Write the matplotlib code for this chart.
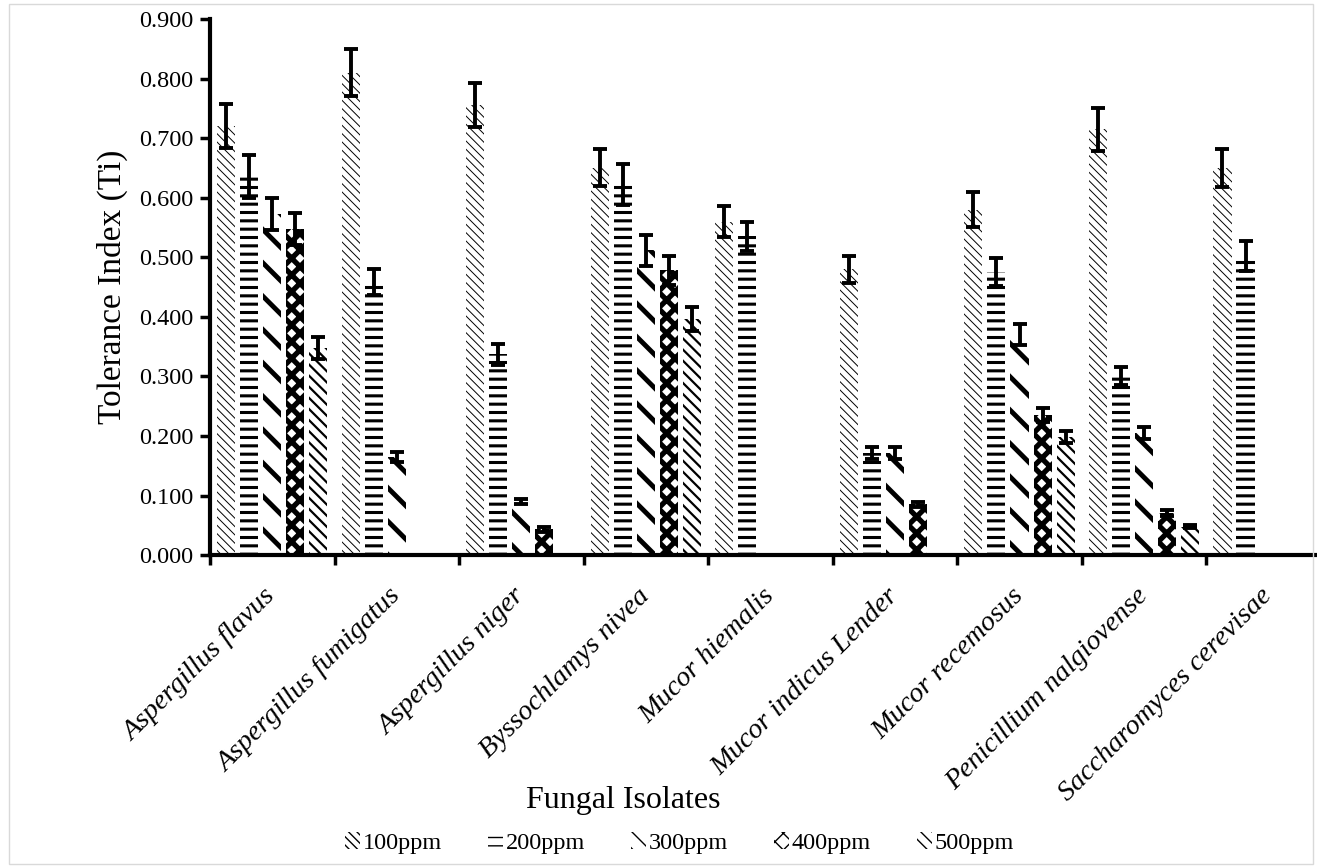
import numpy as np
import matplotlib
matplotlib.use("Agg")
import matplotlib.pyplot as plt
from matplotlib.patches import Rectangle

plt.rcParams['font.family'] = ['Liberation Serif', 'DejaVu Serif']

isolates = ['Aspergillus flavus', 'Aspergillus fumigatus', 'Aspergillus niger',
            'Byssochlamys nivea', 'Mucor hiemalis', 'Mucor indicus Lender',
            'Mucor recemosus', 'Penicillium nalgiovense', 'Saccharomyces cerevisae']
doses = ['100ppm', '200ppm', '300ppm', '400ppm', '500ppm']

ti_100 = [0.720, 0.810, 0.755, 0.650, 0.560, 0.480, 0.580, 0.715, 0.650]
ti_200 = [0.635, 0.458, 0.337, 0.622, 0.535, 0.172, 0.475, 0.300, 0.502]
ti_300 = [0.572, 0.165, 0.090, 0.512, 0.0, 0.172, 0.370, 0.205, 0.0]
ti_400 = [0.548, 0.0, 0.043, 0.478, 0.0, 0.085, 0.235, 0.070, 0.0]
ti_500 = [0.348, 0.0, 0.0, 0.397, 0.0, 0.0, 0.198, 0.048, 0.0]

err_100 = [0.037, 0.040, 0.037, 0.031, 0.026, 0.023, 0.029, 0.036, 0.032]
err_200 = [0.036, 0.022, 0.017, 0.035, 0.025, 0.010, 0.024, 0.015, 0.025]
err_300 = [0.027, 0.008, 0.005, 0.026, 0.0, 0.010, 0.018, 0.010, 0.0]
err_400 = [0.027, 0.0, 0.004, 0.024, 0.0, 0.005, 0.012, 0.005, 0.0]
err_500 = [0.018, 0.0, 0.0, 0.020, 0.0, 0.0, 0.010, 0.002, 0.0]

series = [ti_100, ti_200, ti_300, ti_400, ti_500]
errors = [err_100, err_200, err_300, err_400, err_500]
hatches = ['\\\\\\\\', '--', '\\', 'xx', '\\\\\\']
leg_hatches = ['\\\\\\\\', '--', '\\\\', 'xx', '\\\\\\']
hatch_lw = [0.7, 2.2, 3.5, 3.8, 1.6]

fig = plt.figure(figsize=(13.17, 8.66), dpi=100)
ax = fig.add_axes([0.1595, 0.359, 0.851, 0.619])

x = np.arange(len(isolates))
step = 0.185
width = 0.145
handles = []
for i in range(5):
    pos = x + (i - 2) * step
    vals = np.array(series[i])
    errs = np.array(errors[i])
    with plt.rc_context({'hatch.linewidth': hatch_lw[i]}):
        ax.bar(pos, vals, width, color='white', edgecolor='black', linewidth=0,
               hatch=hatches[i])
    with plt.rc_context({'hatch.linewidth': min(hatch_lw[i], 2.5)}):
        handles.append(Rectangle((0, 0), 1, 1, facecolor='white', edgecolor='black',
                                 linewidth=0, hatch=leg_hatches[i], label=doses[i]))
    m = vals > 0
    ax.errorbar(pos[m], vals[m], yerr=errs[m], fmt='none', ecolor='black',
                elinewidth=2.8, capsize=5, capthick=2.8, zorder=3)

ax.set_xlim(-0.5, len(isolates) - 0.5)
ax.set_ylim(0, 0.9)
ax.set_yticks(np.arange(0, 0.91, 0.1))
ax.set_yticklabels(['%.3f' % v for v in np.arange(0, 0.91, 0.1)], fontsize=17.5)
ax.set_xticks(x)
ax.set_xticklabels(isolates, rotation=45, ha='right', va='center',
                   rotation_mode='anchor', fontsize=20.5, style='italic')
ax.tick_params(axis='x', length=0, pad=27)
ax.set_xticks(np.arange(-0.5, len(isolates), 1), minor=True)
ax.tick_params(axis='x', which='minor', length=7, width=2.5, direction='out')
ax.tick_params(axis='y', length=7, width=2.5, direction='out', pad=5)

for s in ['top', 'right']:
    ax.spines[s].set_visible(False)
ax.spines['left'].set_linewidth(3)
ax.spines['bottom'].set_linewidth(3)

ax.set_ylabel('Tolerance Index (Ti)', fontsize=24, labelpad=8)
fig.text(0.473, 0.076, 'Fungal Isolates', fontsize=23, ha='center', va='center')

leg = fig.legend(handles=handles, loc='center', bbox_to_anchor=(0.516, 0.026), ncol=5,
                 frameon=False, fontsize=17.5, handlelength=0.6, handleheight=0.7,
                 handletextpad=0.12, columnspacing=1.9)

fig.patches.append(Rectangle((0.007, 0.002), 0.99, 0.993, transform=fig.transFigure,
                             fill=False, edgecolor='#d9d9d9', linewidth=1))

fig.savefig('out.png', dpi=100)
